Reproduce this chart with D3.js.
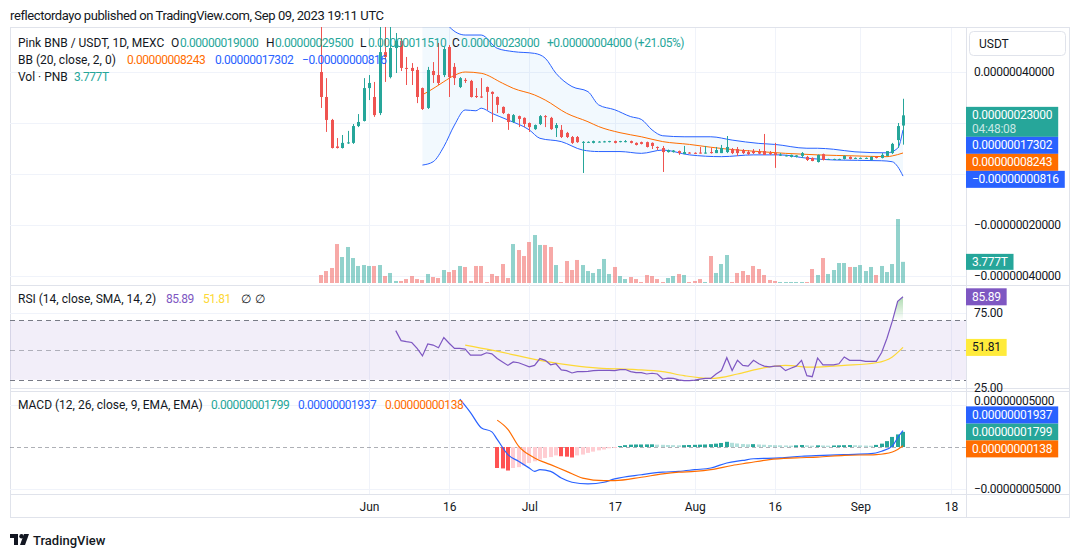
<!DOCTYPE html>
<html>
<head>
<meta charset="utf-8">
<script src="https://cdn.jsdelivr.net/npm/d3@7"></script>
<style>
  body { margin: 0; background: #fff; }
  svg text { font-family: Roboto, "Liberation Sans", sans-serif; fill: #131722; }
</style>
</head>
<body>
<div id="chart"></div>
<script>
// all prices in units of 1e-8 USDT, volume in T
const startDay = new Date(Date.UTC(2023, 4, 23));

// candles [open, high, low, close], one per day from May 23 to Sep 9
const candles = [
  [40,62,25.9,30.2],[30.2,37.6,16.5,21.2],[21.2,21.6,10.0,10.2],[10.8,14.1,10.0,10.2],[10.2,15.3,10.0,12.2],
  [12.0,16.9,11.8,12.4],[12.2,19.6,11.8,18.8],[18.8,23.5,18.4,20.4],[20.8,37.6,20.6,33.7],[33.7,38.8,29.0,35.7],
  [30.2,36.1,22.4,23.1],[23.9,62,23.1,47.8],[47.8,60,36.1,45.9],[38.0,62,37.5,49.4],[49.4,55.3,39.6,52.2],
  [52.2,53.3,40.4,41.6],[41.6,45.9,34.9,41.2],[41.6,43.5,34.9,40.4],[40.8,42.0,27.8,30.2],[33.7,33.9,25.1,25.5],
  [25.9,42.0,25.5,40.8],[40.4,43.9,35.7,38.8],[38.8,51.4,34.9,35.7],[38.8,49.8,38.0,49.0],[49.8,50.6,30.2,38.0],
  [42.0,43.5,34.9,37.6],[34.1,38.0,33.7,37.6],[36.9,37.6,35.7,36.5],[36.5,36.9,30.0,30.2],[30.6,33.7,29.8,30.2],
  [30.4,37.6,29.8,30.0],[34.1,34.3,25.1,32.2],[32.2,32.4,20.4,31.4],[30.2,30.4,23.9,27.1],[26.3,26.5,23.5,23.9],
  [23.5,23.7,17.3,20.4],[20.4,23.5,20.0,23.1],[22.7,22.9,18.4,21.6],[22.0,22.2,18.4,19.6],[20.0,20.2,16.5,18.4],
  [17.6,19.4,17.3,19.2],[19.6,23.1,19.2,22.7],[22.7,23.1,18.4,22.4],[22.0,22.4,17.3,17.6],[18.0,20.0,14.5,19.2],
  [17.3,19.2,14.1,14.5],[16.1,16.5,14.1,14.5],[14.5,14.9,11.8,12.2],[14.5,14.9,12.2,12.5],[12.2,12.9,0.4,12.6],
  [12.4,12.8,12.2,12.6],[12.2,13.1,12.0,12.9],[12.5,12.9,12.4,12.7],[12.6,13.0,12.4,12.8],[12.6,13.0,12.4,12.9],
  [12.9,13.1,12.0,12.2],[12.6,13.0,12.4,12.9],[12.7,13.3,12.4,12.9],[12.9,13.1,12.0,12.2],[12.2,12.4,11.2,11.4],
  [12.5,12.7,11.6,11.8],[12.5,12.7,10.4,10.6],[12.2,12.4,9.8,11.0],[10.6,10.8,9.4,10.4],[10.2,11.0,0.8,8.6],
  [8.6,9.6,8.4,9.4],[8.6,9.4,8.4,9.2],[9.0,9.2,7.5,8.2],[7.8,11.0,7.8,8.6],[8.4,8.6,8.0,8.2],
  [8.3,8.5,7.9,8.1],[8.4,10.6,8.0,8.2],[8.2,11.0,8.0,8.4],[8.6,10.2,8.0,8.2],[8.2,10.6,8.2,9.4],
  [8.2,11.4,8.2,10.2],[8.6,14.9,8.2,10.6],[9.8,10.2,7.8,8.2],[9.8,10.6,7.1,8.2],[9.4,9.8,7.8,8.2],
  [8.6,9.4,7.5,7.8],[9.0,9.8,7.8,8.2],[8.8,9.8,7.8,8.0],[9.0,15.7,7.5,7.5],[8.2,9.0,7.5,7.8],
  [8.2,12.2,2.4,7.5],[7.4,8.2,7.1,7.6],[7.1,7.5,6.9,7.3],[6.7,7.6,6.5,7.5],[6.7,7.4,6.5,7.3],
  [7.1,8.6,6.3,8.2],[6.7,7.1,5.1,5.5],[6.3,6.5,5.0,5.1],[4.7,7.6,4.5,7.5],[7.8,8.0,5.3,5.5],
  [5.7,6.0,5.5,5.9],[5.7,6.0,5.5,5.9],[5.7,6.0,5.5,5.9],[5.9,7.3,5.7,7.1],[6.7,6.9,5.7,5.9],
  [6.1,6.5,5.9,6.3],[6.1,6.5,5.9,6.3],[6.1,6.5,5.9,6.3],[5.5,6.9,5.3,6.7],[6.7,6.9,6.1,6.3],
  [6.3,8.2,6.1,7.5],[7.1,9.0,7.0,9.0],[8.2,12.2,7.8,11.8],[13.3,20.0,10.2,18.8],[19.0,29.5,11.51,23.0]
];

const volumes = [
  1.43,2.14,2.68,6.96,4.64,6.43,4.46,3.04,3.21,3.04,
  3.04,3.21,1.25,1.79,0.36,0.36,0.71,1.25,0.71,0.54,
  1.61,1.07,0.89,2.32,1.96,2.32,3.04,2.86,0.36,3.04,
  3.04,0.18,1.61,1.25,3.39,0.89,6.96,5.89,4.82,7.32,
  8.57,6.79,6.79,6.43,3.21,0.18,3.93,2.32,4.11,3.21,
  2.14,1.79,2.50,4.29,1.61,2.86,1.25,0.71,1.07,0.71,
  0.18,1.43,1.25,0.71,0.18,0.89,1.25,1.61,1.43,0.18,
  0.36,0.71,0.18,4.82,1.79,3.39,5.00,0.18,1.79,2.14,
  1.43,3.04,2.50,1.43,0.54,0.36,0.18,0.18,0.18,0.18,
  0.18,0.18,2.50,1.43,4.46,1.61,2.32,3.57,3.57,2.86,
  2.86,3.21,2.14,2.86,1.43,3.04,1.96,3.39,11.43,3.777
];

// Bollinger bands, [day index, value]
const bbUpper = [[19,74],[21,70],[23,62],[24,57.8],[27,54.5],[30,54.5],[33,49.3],[36,48],[40,47.3],[42,45.4],
  [44,39.5],[47,34.3],[50,32.3],[52,27.1],[55,25.2],[58,22.5],[60,21.4],[62,17.3],[64,15.0],[68,14.6],
  [73,14.6],[77,13.3],[82,12.0],[85,11.6],[91,10.1],[93,10.1],[96,9.7],[100,8.7],[106,8.3],[108,10.1],[109,17.302]];
const bbBasis = [[19,31.1],[20,32.2],[23,36.2],[25,38.7],[27,40.0],[30,39.5],[34,35.6],[36,33.6],[40,31.0],[42,29.0],
  [46,23.8],[50,20.5],[52,18.6],[56,16.2],[60,14.6],[64,12.7],[69,11.6],[73,10.5],[78,9.4],[82,8.8],
  [87,8.1],[93,7.5],[100,7.1],[106,6.8],[107,7.1],[109,8.243]];
const bbLower = [[19,3.5],[21,4.8],[23,10.7],[25,19.2],[27,25.1],[29,24.8],[30,25.8],[32,23.8],[35,21.2],[39,17.3],
  [41,14.0],[45,12.7],[49,9.4],[52,8.8],[56,8.8],[60,8.1],[64,9.4],[69,7.5],[75,6.8],[81,7.5],
  [86,7.5],[91,6.2],[96,5.5],[105,5.2],[107,4.8],[108,2.9],[109,-0.816]];

// RSI from day 14
const rsiStart = 14;
const rsi = [
  63.1,56.4,55.7,55.1,51.1,46.1,54.1,53.4,51.6,58.5,54.6,51.1,51.1,50.7,46.6,46.6,
  46.6,48.2,47.5,44.3,42.0,39.7,42.0,41.5,40.1,38.7,39.7,44.3,43.1,40.1,40.8,36.7,
  36.2,34.6,35.5,35.5,35.7,36.2,36.4,36.4,36.4,36.2,36.9,36.9,35.5,34.8,34.8,33.9,
  34.4,33.9,30.5,31.1,30.9,30.0,29.5,29.5,29.8,30.5,30.9,30.9,33.9,36.2,44.9,36.2,
  43.1,39.7,39.2,43.1,40.8,39.2,38.7,39.2,39.2,36.2,37.8,39.2,43.1,32.8,32.1,44.7,
  40.1,40.1,40.1,40.8,45.4,43.1,43.1,43.1,42.4,42.4,42.4,48.4,58.0,69.5,82.9,85.89
];
const rsiMa = [[27,53.4],[32,50.0],[35,47.7],[41,43.1],[47,39.7],[52,37.8],[59,36.9],[64,35.5],[68,32.8],
  [73,30.9],[78,33.9],[82,37.4],[87,39.7],[92,38.5],[98,39.7],[104,41.5],[107,45.4],[109,51.81]];

// MACD, units 1e-8
const macdLine = [[26,5.7],[28,4.1],[30,2.3],[32,1.8],[33,0.9],[35,-0.9],[37,-1.7],[39,-2.5],[40,-2.9],[41,-2.7],
  [43,-2.9],[45,-3.7],[47,-4.2],[50,-4.4],[53,-4.2],[55,-3.8],[60,-3.3],[64,-3.0],[67,-2.9],[70,-2.7],
  [73,-2.5],[76,-1.9],[79,-1.6],[81,-1.4],[86,-1.3],[90,-1.1],[94,-1.0],[98,-0.9],[103,-0.8],[105,-0.5],
  [107,0.1],[108,1.1],[109,1.937]];
const signalLine = [[33,3.2],[35,2.1],[37,0.1],[40,-1.3],[43,-2.1],[46,-2.9],[49,-3.7],[53,-4.0],[55,-4.0],[60,-3.6],
  [64,-3.2],[67,-3.0],[70,-2.9],[73,-2.7],[77,-2.2],[80,-1.9],[84,-1.5],[89,-1.3],[93,-1.2],[98,-1.0],
  [104,-0.9],[107,-0.6],[108,-0.3],[109,0.138]];
const histStart = 33;
const hist = [
  -2.5,-2.55,-2.8,-2.5,-2.4,-2.2,-1.9,-1.7,-1.5,-1.3,-1.2,-1.0,-1.1,-1.15,-1.25,-1.0,
  -0.9,-0.7,-0.55,-0.4,-0.3,-0.15,-0.05,0.12,0.22,0.28,0.30,0.30,0.31,0.32,0.28,0.26,
  0.24,0.22,0.20,0.22,0.24,0.26,0.28,0.30,0.34,0.40,0.48,0.62,0.50,0.42,0.36,0.32,
  0.34,0.30,0.27,0.24,0.22,0.20,0.18,0.16,0.20,0.24,0.20,0.16,0.20,0.18,0.16,0.18,
  0.20,0.22,0.23,0.21,0.19,0.17,0.15,0.25,0.4,0.7,1.2,1.5,1.799
];

const tickDates = ["2023-06-01","2023-06-16","2023-07-01","2023-07-17","2023-08-01","2023-08-16","2023-09-01","2023-09-18"];
const tickLabels = ["Jun","16","Jul","17","Aug","16","Sep","18"];

// ---------- layout ----------
const width = 1080, height = 557;
const L = 10, R = 966, AR = 1070;
const price = {top: 27, bottom: 285};
const rsiPane = {top: 286, bottom: 388};
const macdPane = {top: 391, bottom: 494};
const axisBottom = 518;

const up = "#26a69a", down = "#ef5350";
const day = i => d3.utcDay.offset(startDay, i);

const x = d3.scaleUtc().domain([day(0), day(109)]).range([321, 903]);
const yPrice = d3.scaleLinear().domain([-40, 40]).range([276, 72]);
const yVol = d3.scaleLinear().domain([0, 11.43]).range([283, 219]);
const yRsi = d3.scaleLinear().domain([30, 70]).range([379.8, 320.4]);
const yMacd = d3.scaleLinear().domain([-5, 5]).range([489, 405]);

const fmt = v => (v < 0 ? "\u2212" : "") + (Math.abs(v) * 1e-8).toFixed(11);

const svg = d3.select("#chart").append("svg")
  .attr("width", width).attr("height", height);

const defs = svg.append("defs");
[["clipPrice", price], ["clipRsi", rsiPane], ["clipMacd", macdPane]].forEach(([id, p]) => {
  defs.append("clipPath").attr("id", id).append("rect")
    .attr("x", L).attr("y", p.top).attr("width", R - L).attr("height", p.bottom - p.top);
});
const gradUp = defs.append("linearGradient").attr("id", "obFill").attr("x1", 0).attr("x2", 0).attr("y1", 0).attr("y2", 1);
gradUp.append("stop").attr("offset", "0%").attr("stop-color", "rgba(76,175,80,0.45)");
gradUp.append("stop").attr("offset", "100%").attr("stop-color", "rgba(76,175,80,0)");
const gradDn = defs.append("linearGradient").attr("id", "osFill").attr("x1", 0).attr("x2", 0).attr("y1", 0).attr("y2", 1);
gradDn.append("stop").attr("offset", "0%").attr("stop-color", "rgba(242,54,69,0)");
gradDn.append("stop").attr("offset", "100%").attr("stop-color", "rgba(242,54,69,0.4)");

// header
svg.append("text").attr("x", 10).attr("y", 15).attr("dominant-baseline", "central")
  .style("font-size", "13px").style("letter-spacing", "-0.4px")
  .text("reflectordayo published on TradingView.com, Sep 09, 2023 19:11 UTC");

// frame
svg.append("rect").attr("x", L + 0.5).attr("y", price.top + 0.5)
  .attr("width", AR - L - 1).attr("height", axisBottom - price.top - 1)
  .attr("fill", "none").attr("stroke", "#e0e3eb");
svg.append("line").attr("x1", R + 0.5).attr("x2", R + 0.5).attr("y1", price.top).attr("y2", axisBottom)
  .attr("stroke", "#e0e3eb");
[price.bottom, rsiPane.bottom, rsiPane.bottom + 3, macdPane.bottom].forEach(yy => {
  svg.append("line").attr("x1", L).attr("x2", AR).attr("y1", yy + 0.5).attr("y2", yy + 0.5)
    .attr("stroke", "#e0e3eb");
});

// grid
const grid = svg.append("g").attr("stroke", "#f0f3fa");
tickDates.forEach(t => {
  const xx = Math.round(x(new Date(t + "T00:00:00Z"))) + 0.5;
  grid.append("line").attr("x1", xx).attr("x2", xx).attr("y1", price.top + 1).attr("y2", macdPane.bottom);
});
[40, 20, 0, -20, -40].forEach(v => {
  grid.append("line").attr("x1", L).attr("x2", R).attr("y1", Math.round(yPrice(v)) + 0.5).attr("y2", Math.round(yPrice(v)) + 0.5);
});
[75].forEach(v => {
  grid.append("line").attr("x1", L).attr("x2", R).attr("y1", Math.round(yRsi(v)) + 0.5).attr("y2", Math.round(yRsi(v)) + 0.5);
});
[5, -5].forEach(v => {
  grid.append("line").attr("x1", L).attr("x2", R).attr("y1", Math.round(yMacd(v)) + 0.5).attr("y2", Math.round(yMacd(v)) + 0.5);
});

// ---------- price pane ----------
const gp = svg.append("g").attr("clip-path", "url(#clipPrice)");
const px = d => x(day(d[0]));

// BB background
const upperLine = d3.line().x(px).y(d => yPrice(d[1])).curve(d3.curveMonotoneX);
const lowerRev = bbLower.slice().reverse();
gp.append("path")
  .attr("d", upperLine(bbUpper) + "L" + upperLine(lowerRev).slice(1) + "Z")
  .attr("fill", "rgba(33,150,243,0.06)");

// volume
const bw = 4;
gp.selectAll(".vol").data(volumes).join("rect")
  .attr("x", (d, i) => Math.round(x(day(i)) - bw / 2))
  .attr("y", d => yVol(d))
  .attr("width", bw)
  .attr("height", d => yVol(0) - yVol(d))
  .attr("fill", (d, i) => candles[i][3] >= candles[i][0] ? "rgba(38,166,154,0.5)" : "rgba(239,83,80,0.5)");

// BB lines
[[bbUpper, "#2962ff"], [bbLower, "#2962ff"], [bbBasis, "#ff6d00"]].forEach(([data, c]) => {
  gp.append("path").attr("d", upperLine(data)).attr("fill", "none").attr("stroke", c).attr("stroke-width", 1);
});

// candles
const cg = gp.selectAll(".candle").data(candles).join("g");
cg.append("line")
  .attr("x1", (d, i) => Math.round(x(day(i))) + 0.5)
  .attr("x2", (d, i) => Math.round(x(day(i))) + 0.5)
  .attr("y1", d => yPrice(d[1]))
  .attr("y2", d => yPrice(d[2]))
  .attr("stroke", d => d[3] >= d[0] ? up : down);
cg.append("rect")
  .attr("x", (d, i) => Math.round(x(day(i))) - 1)
  .attr("y", d => yPrice(Math.max(d[0], d[3])))
  .attr("width", 3)
  .attr("height", d => Math.max(1, Math.abs(yPrice(d[0]) - yPrice(d[3]))))
  .attr("fill", d => d[3] >= d[0] ? up : down);

// ---------- RSI pane ----------
const gr = svg.append("g").attr("clip-path", "url(#clipRsi)");
gr.append("rect").attr("x", L).attr("width", R - L)
  .attr("y", yRsi(70)).attr("height", yRsi(30) - yRsi(70))
  .attr("fill", "rgba(126,87,194,0.1)");
[[70, "#787b86"], [50, "rgba(120,123,134,0.55)"], [30, "#787b86"]].forEach(([v, c]) => {
  gr.append("line").attr("x1", L).attr("x2", R)
    .attr("y1", Math.round(yRsi(v)) + 0.5).attr("y2", Math.round(yRsi(v)) + 0.5)
    .attr("stroke", c).attr("stroke-dasharray", "5,4");
});
const rsiPts = rsi.map((v, k) => [rsiStart + k, v]);
gr.append("path")
  .attr("d", d3.area().x(px).y0(yRsi(70)).y1(d => yRsi(Math.max(d[1], 70)))(rsiPts))
  .attr("fill", "url(#obFill)");
gr.append("path")
  .attr("d", d3.area().x(px).y0(yRsi(30)).y1(d => yRsi(Math.min(d[1], 30)))(rsiPts))
  .attr("fill", "url(#osFill)");
gr.append("path").attr("d", d3.line().x(px).y(d => yRsi(d[1])).curve(d3.curveMonotoneX)(rsiMa))
  .attr("fill", "none").attr("stroke", "#fdd835").attr("stroke-width", 1.2);
gr.append("path").attr("d", d3.line().x(px).y(d => yRsi(d[1]))(rsiPts))
  .attr("fill", "none").attr("stroke", "#7e57c2").attr("stroke-width", 1.2);

// ---------- MACD pane ----------
const gm = svg.append("g").attr("clip-path", "url(#clipMacd)");
gm.append("line").attr("x1", L).attr("x2", R)
  .attr("y1", Math.round(yMacd(0)) + 0.5).attr("y2", Math.round(yMacd(0)) + 0.5)
  .attr("stroke", "rgba(120,123,134,0.6)").attr("stroke-dasharray", "4,3");
gm.selectAll(".hist").data(hist).join("rect")
  .attr("x", (d, k) => Math.round(x(day(histStart + k)) - bw / 2))
  .attr("y", d => Math.min(yMacd(d), yMacd(0)))
  .attr("width", bw)
  .attr("height", d => Math.max(1, Math.abs(yMacd(d) - yMacd(0))))
  .attr("fill", (d, k) => {
    const prev = k > 0 ? hist[k - 1] : null;
    if (d >= 0) return prev === null || d >= prev ? "#26a69a" : "#b2dfdb";
    return prev === null || d < prev ? "#ff5252" : "#ffcdd2";
  });
const mline = d3.line().x(px).y(d => yMacd(d[1])).curve(d3.curveMonotoneX);
gm.append("path").attr("d", mline(macdLine)).attr("fill", "none").attr("stroke", "#2962ff").attr("stroke-width", 1.2);
gm.append("path").attr("d", mline(signalLine)).attr("fill", "none").attr("stroke", "#ff6d00").attr("stroke-width", 1.2);

// ---------- time axis ----------
const xa = svg.append("g").attr("transform", `translate(0,${macdPane.bottom})`)
  .call(d3.axisBottom(x)
    .tickValues(tickDates.map(t => new Date(t + "T00:00:00Z")))
    .tickFormat((d, i) => tickLabels[i])
    .tickSize(0).tickPadding(8));
xa.select(".domain").remove();
xa.selectAll("text").style("font-size", "12px").style("font-family", "Roboto, sans-serif").attr("fill", "#131722");

// ---------- right axes ----------
function rightAxis(scale, values, f) {
  const g = svg.append("g").attr("transform", `translate(${R},0)`)
    .call(d3.axisRight(scale).tickValues(values).tickFormat(f).tickSize(0).tickPadding(8));
  g.select(".domain").remove();
  g.selectAll("text").style("font-size", "12px").style("font-family", "Roboto, sans-serif")
    .style("letter-spacing", "-0.3px").attr("fill", "#131722");
  return g;
}
rightAxis(yPrice, [40, -20, -40], fmt);
rightAxis(yRsi, [75, 25], d => d.toFixed(2));
const ma = rightAxis(yMacd, [5, -5], fmt);
// the top label sits under the pane edge, as in the reference
ma.selectAll("text").filter(d => d > 0).attr("dy", "-0.05em");

// USDT button
svg.append("rect").attr("x", 969.5).attr("y", 31.5).attr("width", 96).attr("height", 24).attr("rx", 4)
  .attr("fill", "#fff").attr("stroke", "#e0e3eb");
svg.append("text").attr("x", 979).attr("y", 43.5).attr("dominant-baseline", "central")
  .style("font-size", "12px").text("USDT");

// ---------- badges ----------
function badge(top, h, fill, lines, textFill) {
  const g = svg.append("g");
  const r = g.append("rect").attr("x", R).attr("y", top).attr("height", h).attr("fill", fill);
  let w = 0;
  lines.forEach((ln, k) => {
    const t = g.append("text").attr("x", R + 6).attr("y", top + 8.5 + k * 13.5)
      .attr("dominant-baseline", "central")
      .style("font-size", "12px").style("letter-spacing", "-0.3px")
      .style("fill", ln.color || textFill || "#fff").text(ln.text);
    w = Math.max(w, t.node().getComputedTextLength());
  });
  r.attr("width", w + 12);
}
// anchor label stays at its value, the others are pushed away from it
function placeBadges(anchor, others) {
  const out = [{...anchor, top: anchor.y - 8.5}];
  const aTop = anchor.y - 8.5, aBot = aTop + anchor.h;
  let lim = aTop;
  others.filter(o => o.y < anchor.y).sort((a, b) => b.y - a.y).forEach(o => {
    const bot = Math.min(o.y + o.h / 2, lim);
    out.push({...o, top: bot - o.h}); lim = bot - o.h;
  });
  lim = aBot;
  others.filter(o => o.y >= anchor.y).sort((a, b) => a.y - b.y).forEach(o => {
    const top = Math.max(o.y - o.h / 2, lim);
    out.push({...o, top}); lim = top + o.h;
  });
  out.forEach(o => badge(o.top, o.h, o.fill, o.lines, o.textFill));
}
const lastC = candles[candles.length - 1][3];
placeBadges(
  {y: yPrice(lastC), h: 30, fill: up, lines: [{text: fmt(lastC)}, {text: "04:48:08", color: "rgba(255,255,255,0.75)"}]},
  [
    {y: yPrice(bbUpper[bbUpper.length - 1][1]), h: 17, fill: "#2962ff", lines: [{text: fmt(bbUpper[bbUpper.length - 1][1])}]},
    {y: yPrice(bbBasis[bbBasis.length - 1][1]), h: 17, fill: "#ff6d00", lines: [{text: fmt(bbBasis[bbBasis.length - 1][1])}]},
    {y: yPrice(bbLower[bbLower.length - 1][1]), h: 17, fill: "#2962ff", lines: [{text: fmt(bbLower[bbLower.length - 1][1])}]}
  ]);
const lastV = volumes[volumes.length - 1];
badge(yVol(lastV) - 8, 16, up, [{text: lastV.toFixed(3) + "T"}]);
const lastRsi = rsi[rsi.length - 1], lastMa = rsiMa[rsiMa.length - 1][1];
badge(yRsi(lastRsi) - 8.5, 17, "#7e57c2", [{text: lastRsi.toFixed(2)}]);
badge(yRsi(lastMa) - 8.5, 17, "#ffeb3b", [{text: lastMa.toFixed(2)}], "#131722");
const lastH = hist[hist.length - 1], lastM = macdLine[macdLine.length - 1][1], lastS = signalLine[signalLine.length - 1][1];
placeBadges(
  {y: yMacd(lastH), h: 17, fill: "#26a69a", lines: [{text: fmt(lastH)}]},
  [
    {y: yMacd(lastM), h: 17, fill: "#2962ff", lines: [{text: fmt(lastM)}]},
    {y: yMacd(lastS), h: 17, fill: "#ff6d00", lines: [{text: fmt(lastS)}]}
  ]);

// ---------- legends ----------
// labels keep normal spacing, numbers are set a little tighter
function legend(yy, parts) {
  parts.forEach(p => {
    svg.append("text").attr("x", p[0]).attr("y", yy).attr("dominant-baseline", "central")
      .style("font-size", "12px").style("letter-spacing", p[2] ? "-0.45px" : "0px")
      .style("fill", p[2] || "#131722").text(p[1]);
  });
}
const lc = candles[candles.length - 1];
const chg = lc[3] - lc[0];
legend(43, [
  [18, "Pink BNB / USDT, 1D, MEXC"],
  [171, "O"], [180, fmt(lc[0]), up],
  [266, "H"], [275, fmt(lc[1]), up],
  [360, "L"], [368, fmt(lc[2]), up],
  [452, "C"], [461, fmt(lc[3]), up],
  [547, "+" + fmt(chg) + " (+" + (chg / lc[0] * 100).toFixed(2) + "%)", up]
]);
legend(60, [
  [18, "BB (20, close, 2, 0)"],
  [127, fmt(bbBasis[bbBasis.length - 1][1]), "#ff6d00"],
  [215, fmt(bbUpper[bbUpper.length - 1][1]), "#2962ff"],
  [302, fmt(bbLower[bbLower.length - 1][1]), "#2962ff"]
]);
legend(77, [[18, "Vol \u00b7 PNB"], [74, lastV.toFixed(3) + "T", up]]);
legend(299, [
  [18, "RSI (14, close, SMA, 14, 2)"],
  [166, lastRsi.toFixed(2), "#7e57c2"],
  [203, lastMa.toFixed(2), "#fdd835"],
  [241, "\u2205"], [255, "\u2205"]
]);
legend(405, [
  [18, "MACD (12, 26, close, 9, EMA, EMA)"],
  [211, fmt(lastH), "#26a69a"],
  [298, fmt(lastM), "#2962ff"],
  [385, fmt(lastS), "#ff6d00"]
]);

// ---------- footer logo ----------
const logo = svg.append("g").attr("transform", "translate(10,534)");
logo.append("path").attr("d", "M0,0H8V11H4V4H0Z").attr("fill", "#131722");
logo.append("circle").attr("cx", 11.5).attr("cy", 2.2).attr("r", 2.2).attr("fill", "#131722");
logo.append("path").attr("d", "M14,0H19L15,11H10Z").attr("fill", "#131722");
svg.append("text").attr("x", 33).attr("y", 540).attr("dominant-baseline", "central")
  .style("font-size", "13px").style("font-weight", "500").text("TradingView");
</script>
</body>
</html>
